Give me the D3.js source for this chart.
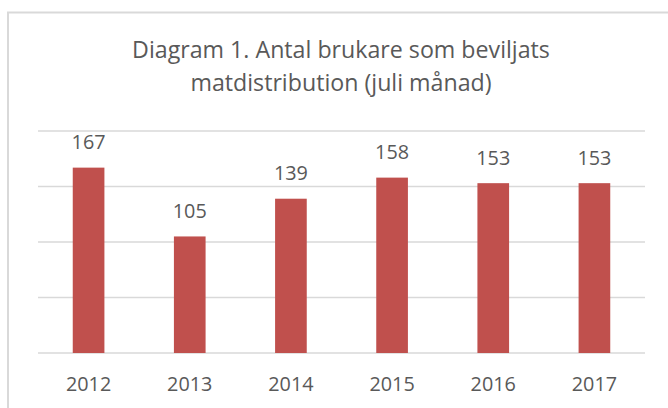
<!DOCTYPE html>
<html>
<head>
<meta charset="utf-8">
<script src="https://cdn.jsdelivr.net/npm/d3@7"></script>
<style>
  html, body { margin: 0; padding: 0; background: #ffffff; }
  svg { display: block; }
  text { font-family: "Open Sans", "Noto Sans", sans-serif; fill: #595959; }
</style>
</head>
<body>
<div id="chart"></div>
<script>
const categories = ["2012", "2013", "2014", "2015", "2016", "2017"];
const values = [167, 105, 139, 158, 153, 153];
const yTicks = [0, 50, 100, 150, 200];
const titleLines = ["Diagram 1. Antal brukare som beviljats", "matdistribution (juli månad)"];

const W = 668, H = 408;
const plot = { left: 38, right: 645, top: 131, bottom: 353 };

const svg = d3.select("#chart").append("svg")
  .attr("width", W).attr("height", H);

svg.append("rect").attr("width", W).attr("height", H).attr("fill", "#fff");

// chart border (extends beyond the window on the right and bottom)
svg.append("rect")
  .attr("x", 8).attr("y", 12.5)
  .attr("width", 700).attr("height", 450)
  .attr("fill", "none").attr("stroke", "#d9d9d9").attr("stroke-width", 2);

const x = d3.scaleBand().domain(categories).range([plot.left, plot.right]).padding(0);
const y = d3.scaleLinear().domain([0, 200]).range([plot.bottom, plot.top]);
const barW = x.bandwidth() * 0.313;

// gridlines
svg.append("g").selectAll("line").data(yTicks).join("line")
  .attr("x1", plot.left).attr("x2", plot.right)
  .attr("y1", d => y(d)).attr("y2", d => y(d))
  .attr("stroke", "#d9d9d9").attr("stroke-width", 1.6);

// bars
svg.append("g").selectAll("rect").data(values).join("rect")
  .attr("x", (d, i) => x(categories[i]) + x.bandwidth() / 2 - barW / 2)
  .attr("width", barW)
  .attr("y", d => y(d))
  .attr("height", d => y(0) - y(d))
  .attr("fill", "#c0504d");

function fit(sel, target) {
  sel.each(function() {
    const t = d3.select(this);
    const fs = parseFloat(t.attr("font-size"));
    const len = this.getComputedTextLength();
    t.attr("font-size", fs * target / len);
  });
}

// value labels
const vl = svg.append("g").selectAll("text").data(values).join("text")
  .attr("x", (d, i) => x(categories[i]) + x.bandwidth() / 2)
  .attr("y", d => y(d) - 18.5)
  .attr("text-anchor", "middle")
  .attr("font-size", 20)
  .text(d => d);
// size to match reference widths
let fsVal = 20;
{
  const n = vl.node();
  fsVal = 20 * 34 / n.getComputedTextLength();
  vl.attr("font-size", fsVal);
}

// x axis labels
const xAxis = d3.axisBottom(x).tickSize(0).tickPadding(0);
const gx = svg.append("g").attr("transform", `translate(0,${plot.bottom})`).call(xAxis);
gx.select(".domain").remove();
gx.selectAll("text")
  .attr("y", 38).attr("dy", null)
  .attr("font-size", fsVal)
  .style("font-family", "\"Open Sans\", \"Noto Sans\", sans-serif")
  .style("fill", "#595959");

// title
const tg = svg.append("g");
const t1 = tg.append("text").attr("x", 341).attr("y", 58).attr("text-anchor", "middle")
  .attr("font-size", 22).text(titleLines[0]);
const fsTitle = 22 * 418 / t1.node().getComputedTextLength();
t1.attr("font-size", fsTitle);
tg.append("text").attr("x", 341).attr("y", 91).attr("text-anchor", "middle")
  .attr("font-size", fsTitle).text(titleLines[1]);
</script>
</body>
</html>
